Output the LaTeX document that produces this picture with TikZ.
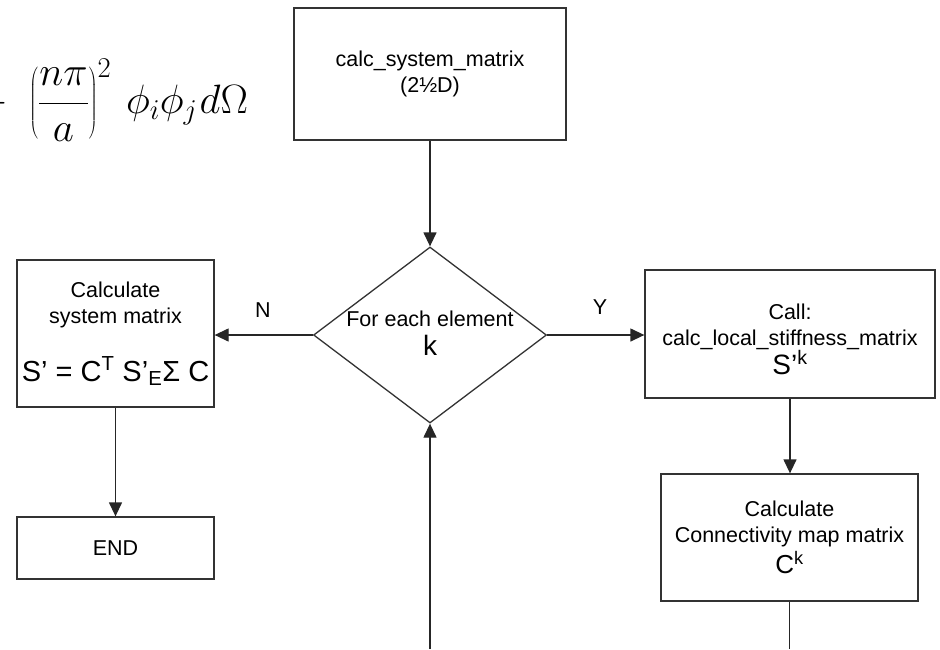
\RequirePackage{fix-cm}
\documentclass[tikz,border=0pt]{standalone}
\usepackage{fontspec}
\setmainfont{Liberation Sans}
\usetikzlibrary{shapes.geometric,arrows.meta}
\begin{document}
\begin{tikzpicture}[x=1pt,y=-1pt,
  box/.style={draw=black!80, line width=1.3pt, align=center, inner sep=0pt,
    font=\fontsize{21.5}{26}\selectfont},
  lbl/.style={inner sep=0pt, font=\fontsize{21.5}{26}\selectfont},
  conn/.style={draw=black!85, line width=1.3pt},
  arr/.style={conn, -{Triangle[length=14pt,width=13pt]}}
]
\useasboundingbox (0,0) rectangle (940,649);

% formula fragment (top left, cut off at the left edge)
\node[anchor=base west, inner sep=0pt, font=\fontsize{41}{46}\selectfont] (formula) at (-23.5,113)
  {$\displaystyle -\hspace{14pt}\left(\rule[-21pt]{0pt}{63pt}\frac{n\pi}{a}\right)^{2}\hspace{8pt}\phi_i\phi_j\mkern1mu d\Omega$};

\node[box, minimum width=272pt, minimum height=132pt] (top) at (430,74)
  {calc\_system\_matrix\\(2½D)};

\node[diamond, draw=black!80, line width=1.3pt, minimum width=233pt, minimum height=176pt, inner sep=0pt] (dec) at (430,335) {};
\node[lbl, align=center] (dectext) at (430,333)
  {For each element\\[3pt]{\fontsize{28}{30}\selectfont k}};

\node[box, minimum width=197pt, minimum height=147pt] (left) at (115.5,333.5)
  {Calculate\\system matrix\\[28pt]{\fontsize{29}{32}\selectfont S’ = C\textsuperscript{T} S’\textsubscript{E}Σ C}};

\node[box, minimum width=197pt, minimum height=62pt] (end) at (115.5,548) {END};

\node[box, minimum width=290pt, minimum height=128pt] (right) at (790,334)
  {\rule{0pt}{26pt}Call:\\calc\_local\_stiffness\_matrix\\[0pt]{\fontsize{28}{30}\selectfont S’\textsuperscript{k}}};

\node[box, minimum width=257pt, minimum height=127pt] (conn) at (789.5,537.5)
  {Calculate\\Connectivity map matrix\\[3pt]{\fontsize{26}{28}\selectfont C\textsuperscript{k}}};

\node[lbl] (nlab) at (263,310) {N};
\node[lbl] (ylab) at (600,307) {Y};

\coordinate (bstart) at (430,649);
\coordinate (bend) at (789.5,649);

\draw[arr] (top.south) -- (dec.north);
\draw[arr] (dec.west) -- (dec.west -| left.east);
\draw[arr] (dec.east) -- (dec.east -| right.west);
\draw[arr] (right.south) -- (right.south |- conn.north);
\draw[conn] (conn.south) -- (bend);
\draw[arr] (bstart) -- (dec.south);
\draw[arr] (left.south) -- (end.north);
\end{tikzpicture}
\end{document}
